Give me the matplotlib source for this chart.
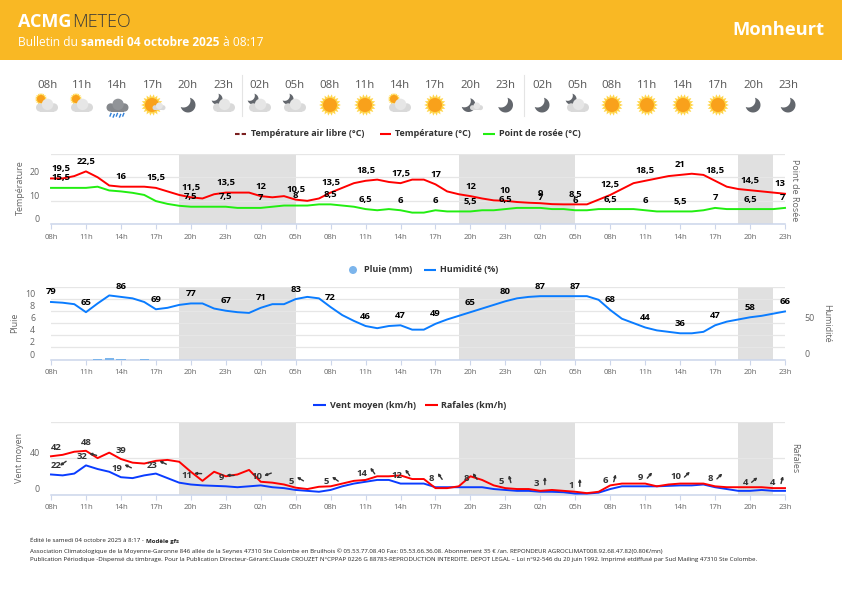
import numpy as np
import matplotlib
matplotlib.use("Agg")
import matplotlib.pyplot as plt
from matplotlib.patches import Circle, Polygon, Rectangle
from matplotlib.transforms import ScaledTranslation

plt.rcParams['font.family'] = ['Open Sans', 'DejaVu Sans']

W, H = 842, 595

# colonnes du haut
col_hours = ["08h","11h","14h","17h","20h","23h","02h","05h","08h","11h","14h","17h","20h","23h","02h","05h","08h","11h","14h","17h","20h","23h"]
col_x = [47,82,117.5,153,188,223,259,294,330,365,400,435,470.5,505.5,542,577,612,647,683,718,753,788]
col_icons = ["cloud_sun","cloud_sun","rain","sun_cloud","moon","cloud_moon","cloud_moon","cloud_moon","sun","sun","cloud_sun","sun",
             "moon_cloud","moon","moon","cloud_moon","sun","sun","sun","sun","moon","moon"]

tick_labels = col_hours

temp = [19.5,19.5,20.5,22.5,20,16.5,16,16,16,15.5,14,12.5,11.5,11,12.8,13.5,
        13.5,13.5,12,11.5,12,10.5,10,11,13.5,15.5,17.5,18.5,19,18,17.5,19,19,17,14,12.8,12,11,10.2,10,
        9.5,9.2,9,8.6,8.5,8.5,8.5,10.5,12.5,15,17.5,18.5,19.5,20.5,21,21.5,21,18.5,16,15,14.5,14,13.5,13]
dew = [15.5,15.5,15.5,15.5,16,14.4,14,13.4,12.5,9.9,8.7,7.9,7.5,7.5,7.5,7.5,
       7,7,7,7.5,8,8,8,8.5,8.5,8,7.5,6.5,6,6.5,6,5,5,6,5.5,5.5,5.5,6,6,6.5,
       7,7,7,6.5,6.5,6,6,6.5,6.5,6.5,6.5,6,5.5,5.5,5.5,5.5,6,7,6.5,6.5,6.5,6.5,6.5,7]
temp_labels = ["19,5","22,5","16","15,5","11,5","13,5","12","10,5","13,5","18,5","17,5","17","12","10","9","8,5","12,5","18,5","21","18,5","14,5","13"]
dew_labels = ["15,5",None,None,None,"7,5","7,5","7","8","8,5","6,5","6","6","5,5","6,5","7","6","6,5","6","5,5","7","6,5","7"]

humidity = [79,78,76,65,77,88,86,84,79,69,71,75,77,77,70,67,
            65,64,71,76,76,83,86,84,72,61,53,46,43,46,47,41,41,49,55,60,65,70,75,80,
            84,86,87,87,87,87,87,82,68,56,50,44,40,38,36,36,38,47,52,55,58,60,63,66]
humidity_labels = ["79","65","86","69","77","67","71","83","72","46","47","49","65","80","87","87","68","44","36","47","58","66"]
rain_hours = [4,5,6,8]
rain = [0.1,0.2,0.1,0.06]

wind = [22,21,23,32,28,25,19,18,21,23,18,13,11,10,9.5,9,
        8,9,10,8,7,5,4,3,5,9,12,14,16,16,12,12,12,8,8,8,8,8,6,5,
        4,4,3,3,2.5,1,1,2,6,9,9,9,9,9.5,10,10,11,8,6,4,4,5,4,4]
gust = [42,43.6,47,48,40,46,39,35,34,37,38,36,25,15,25,20,
        22,27,14,13,11,7.5,6,8.5,9,12,15,16,20,20,21,17,17,7,7,9,20,16,10,7,
        6,6,4,5,4,3,1.5,3,10,12,12,12,9,11,12,12,12,9,8,8,8,8,7,7]
wind_labels = ["22","32","19","23","11","9","10","5","5","14","12","8","8","5","3","1","6","9","10","8","4","4"]
gust_labels = ["42","48","39"]
wind_angle = [215,165,155,155,178,178,200,150,145,125,125,125,125,105,90,90,75,50,45,45,40,75]

night_bands = [(11,21),(35,45),(59,62)]

RED = "#ff0000"
GREEN = "#22ee11"
BLUE = "#0a7cff"
WBLUE = "#0a3cff"
GRID = "#e6e6e6"
AXIS = "#ccd6eb"
TXT = "#666666"
LEG = "#333333"

fig = plt.figure(figsize=(W/100, H/100), dpi=100, facecolor="white")
bg = fig.add_axes([0,0,1,1])
bg.set_xlim(0,W)
bg.set_ylim(H,0)
bg.axis("off")


def rich(x, y, pieces, size, color):
    # morceaux de texte a la suite, normal / gras
    r = fig.canvas.get_renderer()
    for s, w in pieces:
        bg.text(x, y, s, fontsize=size, color=color, fontweight=w, va="center", ha="left")
        t2 = bg.text(x, y, s.replace(" ", "\u00a0"), fontsize=size, fontweight=w, alpha=0)
        x += t2.get_window_extent(r).width


def sun(cx, cy, r):
    a = np.linspace(0, 2*np.pi, 37)[:-1]
    rad = np.where(np.arange(36) % 2 == 0, r*1.55, r*1.12)
    bg.add_patch(Polygon(np.c_[cx+rad*np.cos(a), cy+rad*np.sin(a)], fc="#ffd54a", ec="none", zorder=3))
    bg.add_patch(Circle((cx,cy), r, fc="#f9a11b", ec="none", zorder=4))


def cloud(cx, cy, s, fc="#d9d9d9", top="#e6e6e6"):
    # s = demi largeur
    bg.add_patch(Circle((cx-s*0.62, cy+s*0.18), s*0.38, fc=fc, ec="none", zorder=5))
    bg.add_patch(Circle((cx+s*0.62, cy+s*0.18), s*0.38, fc=fc, ec="none", zorder=5))
    bg.add_patch(Rectangle((cx-s*0.62, cy-s*0.05), s*1.24, s*0.61, fc=fc, ec="none", zorder=5))
    bg.add_patch(Circle((cx+s*0.05, cy-s*0.1), s*0.52, fc=top, ec="none", zorder=5))


def moon(cx, cy, r):
    # croissant ouvert vers le haut a gauche
    mid = np.radians(45)
    span = np.radians(120)
    e = 0.85*r
    beta = np.arctan2(r*np.sin(span), r*np.cos(span)+e)
    t = np.linspace(mid-span, mid+span, 40)
    t2 = np.linspace(mid+beta, mid-beta, 40)
    r2 = np.hypot(r*np.sin(span), r*np.cos(span)+e)
    ox, oy = cx+e*np.cos(mid+np.pi), cy+e*np.sin(mid+np.pi)
    outer = np.c_[cx+r*np.cos(t), cy+r*np.sin(t)]
    inner = np.c_[ox+r2*np.cos(t2), oy+r2*np.sin(t2)]
    bg.add_patch(Polygon(np.r_[outer, inner], fc="#63676d", ec="none", zorder=3))


def icon(kind, x):
    y = 105
    if kind == "sun":
        sun(x, y, 7)
    elif kind == "moon":
        moon(x, y, 7.5)
    elif kind == "cloud_sun":
        sun(x-6, y-6, 4)
        cloud(x, y+0.5, 11)
    elif kind == "sun_cloud":
        sun(x-1, y, 7)
        cloud(x+6, y+1.5, 6.5)
    elif kind == "cloud_moon":
        moon(x-6, y-6, 5.5)
        cloud(x+1, y+0.5, 11)
    elif kind == "moon_cloud":
        moon(x-2, y, 7)
        cloud(x+6, y+1.5, 6.5)
    elif kind == "rain":
        cloud(x, y+0.5, 11, fc="#85888c", top="#919498")
        for i in range(5):
            bg.plot([x-6.5+i*3.2, x-7.5+i*3.2], [y+8.5+(i % 2), y+11+(i % 2)], color="#2f7fd6", lw=1.0, zorder=5)


def legend_line(x0, x1, y, color, ls="-"):
    bg.plot([x0,x1], [y,y], color=color, lw=1.5, ls=ls, solid_capstyle="butt", dash_capstyle="butt")


def leg_text(x, y, s):
    bg.text(x, y, s, fontsize=6.5, fontweight="bold", color=LEG, va="center", ha="left")


def shift_up(labels):
    # les etiquettes d'ordonnee sont au dessus de la grille
    up = ScaledTranslation(0, 4.5/100, fig.dpi_scale_trans)
    for lab in labels:
        lab.set_va("center")
        lab.set_transform(lab.get_transform() + up)


def make_axes(top, bottom, ymax, yticks, shown, ypad=8):
    ax = fig.add_axes([51/W, 1-bottom/H, (785-51)/W, (bottom-top)/H])
    ax.patch.set_alpha(0)
    ax.set_xlim(0,63)
    ax.set_ylim(0,ymax)
    for a, b in night_bands:
        ax.axvspan(a, b, color="#e0e0e0", lw=0, zorder=0.5)
    ax.set_yticks(yticks)
    ax.set_yticklabels([str(v) if v in shown else "" for v in yticks])
    ax.grid(axis="y", color=GRID, lw=0.9, zorder=1)
    ax.set_axisbelow(True)
    ax.set_xticks(range(0,64,3))
    ax.set_xticklabels(tick_labels)
    ax.tick_params(axis="x", length=3.6, width=0.8, color=AXIS, labelcolor=TXT, labelsize=5.6, pad=3.5)
    ax.tick_params(axis="y", length=0, labelcolor=TXT, labelsize=6.4, pad=ypad)
    shift_up(ax.get_yticklabels())
    for k in ["left","right","top"]:
        ax.spines[k].set_visible(False)
    ax.spines["bottom"].set_color(AXIS)
    ax.spines["bottom"].set_linewidth(1.1)
    return ax


def point_labels(ax, series, labels, off, color="black", clamp=True):
    for i, s in enumerate(labels):
        if s is None:
            continue
        h = i*3
        ha = "center"
        if clamp and i == 0:
            ha = "left"
        if clamp and i == 21:
            ha = "right"
        ax.annotate(s, (h, series[h]), xytext=(0, off*0.72), textcoords="offset points", ha=ha, va="center",
                    fontsize=6.8, fontweight="bold", color=color, zorder=10)


# bandeau
bg.add_patch(Rectangle((0,0), W, 60, fc="#f9b824", ec="none"))
bg.text(18, 22, "ACMG", fontsize=13, fontweight="bold", color="white", va="center", ha="left")
bg.text(72, 22, "METEO", fontsize=13, fontweight="light", color="#3a3a3a", va="center", ha="left")
rich(18, 42, [("Bulletin du ", "normal"), ("samedi 04 octobre 2025", "bold"), (" à 08:17", "normal")], 8.55, "white")
bg.text(824, 30, "Monheurt", fontsize=13.2, fontweight="bold", color="white", va="center", ha="right")

# previsions
for h, x, k in zip(col_hours, col_x, col_icons):
    bg.text(x, 85, h, fontsize=8.2, color="#555555", ha="center", va="center")
    icon(k, x)
for x in [241.5, 524.3]:
    bg.plot([x,x], [75,116], color="#e4e4e4", lw=0.8)

# legendes
legend_line(235, 246, 134, "#7a1f1f", (0, (2.2, 1)))
leg_text(251, 134, "Température air libre (°C)")
legend_line(380, 391, 134, RED)
leg_text(395, 134, "Température (°C)")
legend_line(483, 495, 134, GREEN)
leg_text(499, 134, "Point de rosée (°C)")
bg.add_patch(Circle((353,270), 4, fc="#7cb5ec", ec="none"))
leg_text(364, 270, "Pluie (mm)")
legend_line(424, 436, 270, BLUE)
leg_text(440, 270, "Humidité (%)")
legend_line(313, 326, 405, WBLUE)
leg_text(330, 405, "Vent moyen (km/h)")
legend_line(425, 438, 405, RED)
leg_text(441, 405, "Rafales (km/h)")

hours = np.arange(64)

# temperature
ax1 = make_axes(153.7, 224.4, 30, [0,10,20,30], [0,10,20])
ax1.plot(hours, temp, color=RED, lw=1.4, zorder=4, clip_on=False)
ax1.plot(hours, dew, color=GREEN, lw=1.4, zorder=3, clip_on=False)
point_labels(ax1, temp, temp_labels, 10)
point_labels(ax1, dew, dew_labels, 10)
bg.text(20, 188, "Température", rotation=90, fontsize=6.5, color=TXT, ha="center", va="center")
bg.text(795, 190, "Point de Rosée", rotation=270, fontsize=6.5, color=TXT, ha="center", va="center")

# pluie / humidite
ax2 = make_axes(286.7, 359.5, 12, [0,2,4,6,8,10,12], [0,2,4,6,8,10], ypad=11.5)
ax2.bar(rain_hours, rain, width=0.8, color="#7cb5ec", zorder=3)
ax2b = ax2.twinx()
ax2b.patch.set_alpha(0)
ax2b.set_ylim(0,100)
ax2b.set_yticks([0,50])
ax2b.tick_params(axis="y", length=0, labelcolor=TXT, labelsize=6.4, pad=14)
shift_up(ax2b.get_yticklabels())
for k in ax2b.spines:
    ax2b.spines[k].set_visible(False)
ax2b.plot(hours, humidity, color=BLUE, lw=1.4, zorder=4, clip_on=False)
point_labels(ax2b, humidity, humidity_labels, 10, clamp=False)
bg.text(15, 323, "Pluie", rotation=90, fontsize=6.5, color=TXT, ha="center", va="center")
bg.text(827, 323, "Humidité", rotation=270, fontsize=6.5, color=TXT, ha="center", va="center")

# vent
ax3 = make_axes(421.7, 494.5, 80, [0,40,80], [0,40])
ax3.plot(hours, wind, color=WBLUE, lw=1.4, zorder=3, clip_on=False)
ax3.plot(hours, gust, color=RED, lw=1.4, zorder=4, clip_on=False)
point_labels(ax3, gust, gust_labels, 8.5, color=LEG)
for i, ang in enumerate(wind_angle):
    h = i*3
    s = wind_labels[i]
    # le texte et la fleche forment un seul bloc centre sur l'heure
    lab_x = -4.5 if len(s) == 1 else -4
    cx = 4.5 if len(s) == 1 else 7
    if i == 0:
        lab_x, cx = 5, 12
    if i == 21:
        lab_x, cx = -12, -3
    ax3.annotate(s, (h, wind[h]), xytext=(lab_x*0.72, 8.5*0.72), textcoords="offset points", ha="center", va="center",
                 fontsize=6.8, fontweight="bold", color=LEG, zorder=10)
    ca, sa = np.cos(np.radians(ang)), np.sin(np.radians(ang))
    tip = ax3.transData + ScaledTranslation((cx+3.8*ca)/100, (11+3.8*sa)/100, fig.dpi_scale_trans)
    tail = ax3.transData + ScaledTranslation((cx-3.8*ca)/100, (11-3.8*sa)/100, fig.dpi_scale_trans)
    ax3.annotate("", xy=(h, wind[h]), xycoords=tip, xytext=(h, wind[h]), textcoords=tail,
                 arrowprops=dict(arrowstyle="-|>", color=LEG, lw=1.0, mutation_scale=3.5, shrinkA=0, shrinkB=0), zorder=9)
bg.text(20, 458, "Vent moyen", rotation=90, fontsize=6.5, color=TXT, ha="center", va="center")
bg.text(795, 458, "Rafales", rotation=270, fontsize=6.5, color=TXT, ha="center", va="center")

# pied de page
rich(30, 541, [("Édité le samedi 04 octobre 2025 à 8:17 - ", "normal"), ("Modèle gfs", "bold")], 4.45, "#222222")
bg.text(30, 551, "Association Climatologique de la Moyenne-Garonne 846 allée de la Seynes 47310 Ste Colombe en Bruilhois © 05.53.77.08.40 Fax: 05.53.66.36.08. Abonnement 35 € /an. REPONDEUR AGROCLIMAT008.92.68.47.82(0.80€/mn)",
        fontsize=4.45, color="#222222", va="center", ha="left")
bg.text(30, 560, "Publication Périodique -Dispensé du timbrage. Pour la Publication Directeur-Gérant:Claude CROUZET N°CPPAP 0226 G 88783-REPRODUCTION INTERDITE. DEPOT LEGAL – Loi n°92-546 du 20 juin 1992. Imprimé etdiffusé par Sud Mailing 47310 Ste Colombe.",
        fontsize=4.38, color="#222222", va="center", ha="left")

fig.savefig("out.png", dpi=100)
